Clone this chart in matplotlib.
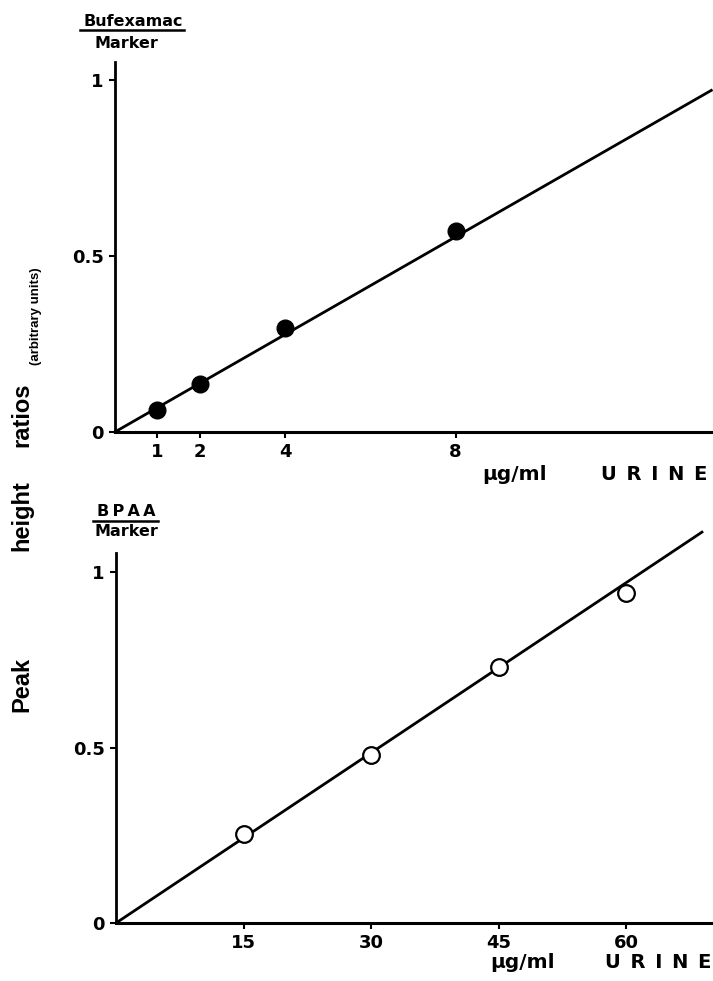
import matplotlib.pyplot as plt
from matplotlib.lines import Line2D

# upper panel: Bufexamac / Marker
buf_x = [1, 2, 4, 8]
buf_y = [0.062, 0.136, 0.295, 0.572]
buf_line_x = [0, 14]
buf_line_y = [0, 0.97]
buf_xticks = [1, 2, 4, 8]

# lower panel: BPAA / Marker
bpaa_x = [15, 30, 45, 60]
bpaa_y = [0.255, 0.48, 0.73, 0.94]
bpaa_line_x = [0, 68.9]
bpaa_line_y = [0, 1.114]
bpaa_xticks = [15, 30, 45, 60]

y_ticks = [0, 0.5, 1]
y_ticklabels = ["0", "0.5", "1"]

plt.rcParams["font.family"] = ["DejaVu Sans"]
plt.rcParams["font.weight"] = "bold"

fig = plt.figure(figsize=(7.13, 9.81), dpi=100)
ax1 = fig.add_axes([0.161, 0.5596, 0.839, 0.377])
ax2 = fig.add_axes([0.1627, 0.0591, 0.8373, 0.377])


def style(ax, xmax, ymax, xticks):
    ax.set_xlim(0, xmax)
    ax.set_ylim(0, ymax)
    for s in ["top", "right"]:
        ax.spines[s].set_visible(False)
    ax.spines["left"].set_linewidth(2)
    ax.spines["bottom"].set_linewidth(2.2)
    ax.set_yticks(y_ticks)
    ax.set_yticklabels(y_ticklabels)
    ax.set_xticks(xticks)
    ax.set_xticklabels([str(t) for t in xticks])
    ax.tick_params(direction="out", length=4, width=1.5, pad=4, labelsize=13)
    for lab in ax.get_xticklabels() + ax.get_yticklabels():
        lab.set_fontweight("bold")


ax1.plot(buf_line_x, buf_line_y, color="black", lw=2, zorder=2, clip_on=False)
ax1.plot(buf_x, buf_y, "o", color="black", ms=12, zorder=3)
style(ax1, 14.04, 1.05, buf_xticks)

ax2.plot(bpaa_line_x, bpaa_line_y, color="black", lw=2, zorder=2, clip_on=False)
ax2.plot(bpaa_x, bpaa_y, "o", mfc="white", mec="black", mew=1.6, ms=12, zorder=3)
style(ax2, 70.2, 1.054, bpaa_xticks)

# x axis titles (letter spaced like the original lettering)
urine = "U\u2002R\u2002I\u2002N\u2002E"
for left, right, yc in [(482, 707, 475), (490, 711, 963)]:
    fig.text(left / 713, 1 - yc / 981, "µg/ml", ha="left", va="center",
             fontsize=14.5, fontweight="bold")
    fig.text(right / 713, 1 - yc / 981, urine, ha="right", va="center",
             fontsize=14, fontweight="bold")

# ratio labels above each y axis
fig.text(133 / 713, 1 - 21 / 981, "Bufexamac", ha="center", va="center",
         fontsize=11.5, fontweight="bold")
fig.add_artist(Line2D([80 / 713, 184 / 713], [1 - 30 / 981, 1 - 30 / 981],
                      color="black", lw=1.8))
fig.text(126 / 713, 1 - 43 / 981, "Marker", ha="center", va="center",
         fontsize=11.5, fontweight="bold")

fig.text(126 / 713, 1 - 511 / 981, "B\u2009P\u2009A\u2009A", ha="center",
         va="center", fontsize=11.5, fontweight="bold")
fig.add_artist(Line2D([93 / 713, 158 / 713], [1 - 521 / 981, 1 - 521 / 981],
                      color="black", lw=1.8))
fig.text(126 / 713, 1 - 532 / 981, "Marker", ha="center", va="center",
         fontsize=11.5, fontweight="bold")

# shared y label
for word, yc in [("ratios", 415), ("height", 516), ("Peak", 684)]:
    fig.text(22 / 713, 1 - yc / 981, word, rotation=90, ha="center",
             va="center", fontsize=17, fontweight="bold",
             family=["Liberation Sans", "DejaVu Sans"])
fig.text(36 / 713, 1 - 316 / 981, "(arbitrary units)", rotation=90,
         ha="center", va="center", fontsize=9.5, fontweight="bold",
         family=["Liberation Sans", "DejaVu Sans"])

fig.savefig("out.png", dpi=100, facecolor="white")
